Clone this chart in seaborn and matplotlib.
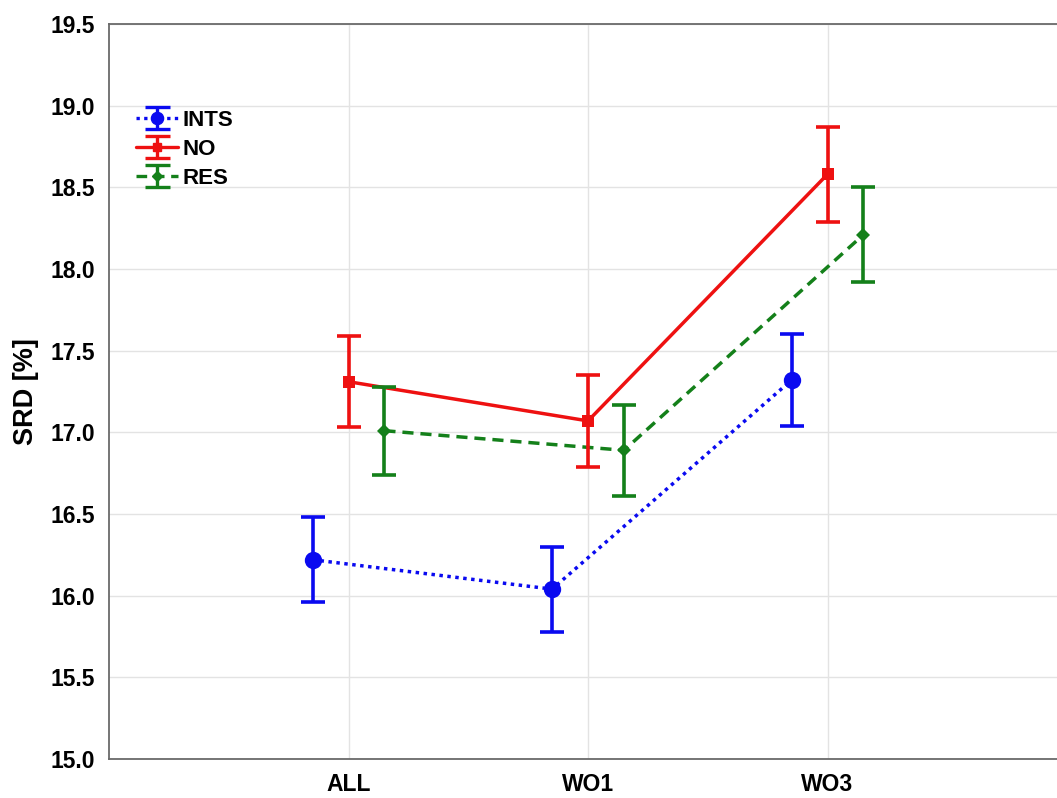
import numpy as np
import pandas as pd
import matplotlib
matplotlib.use("Agg")
import matplotlib.pyplot as plt
import seaborn as sns

# Group means and error half-widths of SRD [%]
categories = ["ALL", "WO1", "WO3"]
series = ["INTS", "NO", "RES"]
ints_mean = [16.22, 16.04, 17.32]
ints_err = [0.26, 0.26, 0.28]
no_mean = [17.31, 17.07, 18.58]
no_err = [0.28, 0.28, 0.29]
res_mean = [17.01, 16.89, 18.21]
res_err = [0.27, 0.28, 0.29]
y_ticks = [15.0, 15.5, 16.0, 16.5, 17.0, 17.5, 18.0, 18.5, 19.0, 19.5]

sns.set_style("white")
plt.rcParams["font.family"] = ["Liberation Sans", "DejaVu Sans"]
plt.rcParams["text.color"] = "black"
plt.rcParams["xtick.color"] = "black"
plt.rcParams["ytick.color"] = "black"
plt.rcParams["axes.labelcolor"] = "black"

means = {"INTS": ints_mean, "NO": no_mean, "RES": res_mean}
errs = {"INTS": ints_err, "NO": no_err, "RES": res_err}
offsets = {"INTS": -0.15, "NO": 0.0, "RES": 0.15}
colors = {"INTS": "#0a0af0", "NO": "#ee1111", "RES": "#14801a"}
markers = {"INTS": "o", "NO": "s", "RES": "D"}
msizes = {"INTS": 12.5, "NO": 9, "RES": 7}
dashes = {"INTS": (1, 1.3), "NO": "", "RES": (3.2, 2.0)}
lstyles = {"INTS": (0, (1, 1.3)), "NO": "-", "RES": (0, (3.2, 2.0))}

rows = []
for s in series:
    for i, c in enumerate(categories):
        rows.append({"group": s, "cat": c, "x": i + 1 + offsets[s],
                     "SRD": means[s][i], "err": errs[s][i]})
df = pd.DataFrame(rows)

fig = plt.figure(figsize=(10.57, 7.98), dpi=100)
ax = fig.add_axes([109 / 1057, 39 / 798, 1 - 109 / 1057, 735 / 798])

# connecting lines and markers
sns.lineplot(data=df, x="x", y="SRD", hue="group", style="group",
             palette=colors, markers=markers, dashes=dashes,
             hue_order=series, style_order=series, linewidth=2.5,
             markeredgewidth=0, legend=False, ax=ax, sort=True)
for s, line in zip(series, ax.lines):
    line.set_markersize(msizes[s])

# error bars
for s in series:
    d = df[df["group"] == s]
    ax.errorbar(d["x"], d["SRD"], yerr=d["err"], fmt="none",
                ecolor=colors[s], elinewidth=2.6, capsize=8.5,
                capthick=2.6, zorder=3)

# legend proxies
handles = []
for s in series:
    h = ax.errorbar([np.nan], [np.nan], yerr=[np.nan], color=colors[s],
                    linestyle=lstyles[s], linewidth=2.4, marker=markers[s],
                    markersize=msizes[s] * 0.7, elinewidth=2.4, capsize=9,
                    capthick=2.4, label=s)
    handles.append(h)
leg = ax.legend(handles=handles, labels=series, loc="upper left",
                bbox_to_anchor=(0.007, 0.91), frameon=False,
                prop={"weight": "bold", "size": 16}, handlelength=1.9,
                handletextpad=0.2, labelspacing=0.35)

ax.set_xlim(0, (1057 - 109) / 239.5)
ax.set_ylim(15.0, 19.5)
ax.set_xticks([1, 2, 3])
ax.set_xticklabels(categories)
ax.set_yticks(y_ticks)
ax.set_yticklabels([f"{t:.1f}" for t in y_ticks])
ax.set_xlabel("")
ax.set_ylabel("SRD [%]", fontsize=19.5, fontweight="bold", labelpad=8)

ax.grid(True, color="#e3e3e3", linewidth=1.0)
ax.set_axisbelow(True)
for side in ["left", "bottom", "top"]:
    ax.spines[side].set_visible(True)
    ax.spines[side].set_color("#6a6a6a")
    ax.spines[side].set_linewidth(1.3)
ax.spines["right"].set_visible(False)
ax.tick_params(axis="both", direction="in", length=4, color="#6a6a6a",
               labelsize=16.5)
ax.tick_params(axis="y", pad=10)
ax.tick_params(axis="x", pad=10)
for lab in ax.get_xticklabels() + ax.get_yticklabels():
    lab.set_fontweight("bold")

fig.savefig("out.png", dpi=100)
